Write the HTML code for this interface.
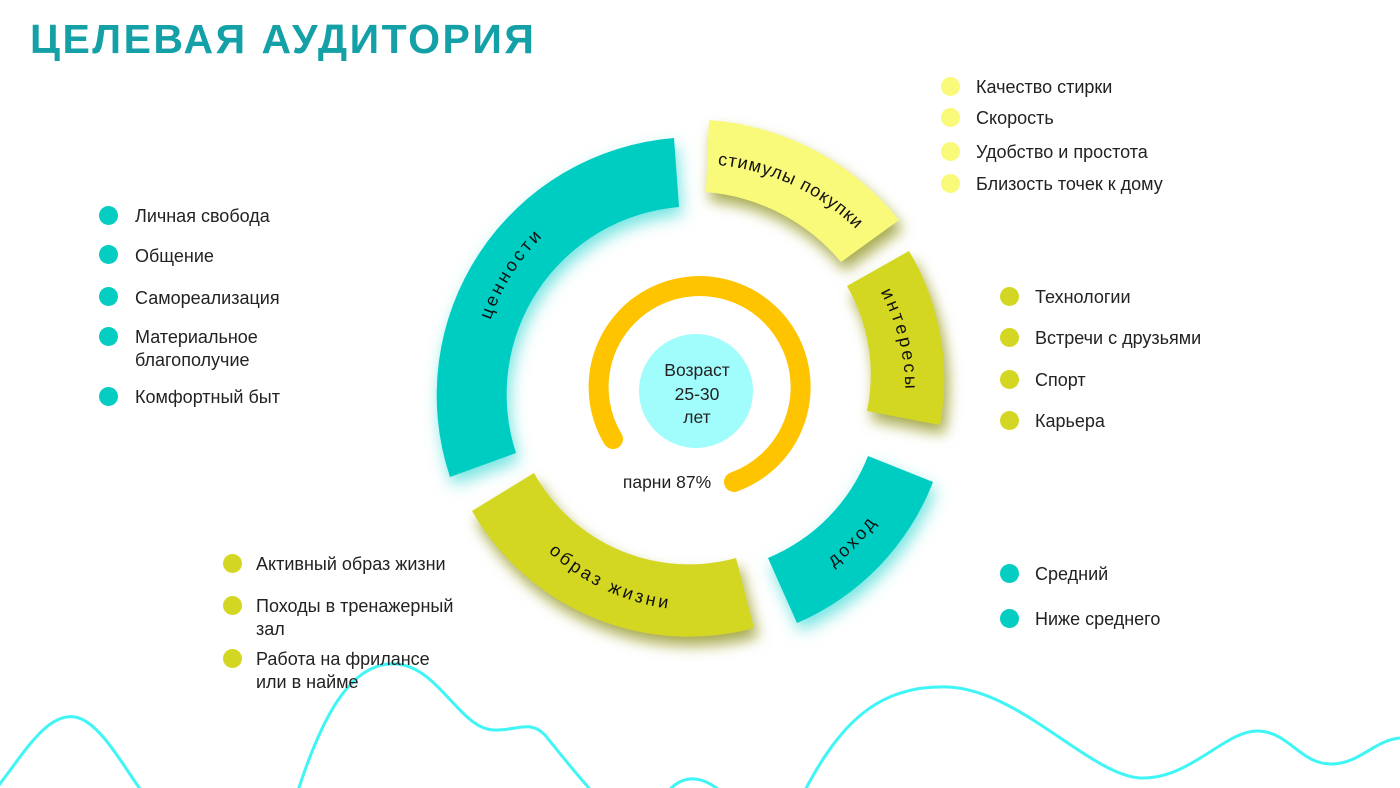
<!DOCTYPE html>
<html><head><meta charset="utf-8">
<style>
body{margin:0;width:1400px;height:788px;overflow:hidden;background:#fff;font-family:"Liberation Sans","DejaVu Sans",sans-serif;}
.t{position:absolute;font-size:18px;color:#222;line-height:23px;}
.d{position:absolute;width:19px;height:19px;border-radius:50%;}
h1{position:absolute;left:30px;top:16px;margin:0;font-size:41px;font-weight:bold;color:#13a0a6;letter-spacing:2.5px;}
</style></head><body>
<svg width="1400" height="788" style="position:absolute;left:0;top:0">
<defs>
<filter id="ft" x="-30%" y="-30%" width="160%" height="160%"><feDropShadow dx="3" dy="8" stdDeviation="8" flood-color="#00cfc8" flood-opacity="0.55"/></filter>
<filter id="fy" x="-30%" y="-30%" width="160%" height="160%"><feDropShadow dx="4" dy="9" stdDeviation="7" flood-color="#8a8f10" flood-opacity="0.75"/></filter>
<path id="p1" d="M482,429 A218,218 0 0 1 659,176"/>
<path id="p2" d="M677,165 A227,227 0 0 1 883,261"/>
<path id="p3" d="M847,246 A208,208 0 0 1 897,448"/>
<path id="p4" d="M759,605 A223,223 0 0 0 913,445"/>
<path id="p5" d="M499,484 A219,219 0 0 0 754,603"/>
</defs>
<path d="M-5,790 C20,760 45,712 75,717 C105,722 135,790 150,800 M295,800 C320,720 350,660 397,664 C440,668 460,730 495,730 C520,730 530,720 545,735 C565,760 590,790 600,800 M665,795 C680,775 700,772 725,795 M800,800 C840,720 880,685 948,687 C1020,690 1090,775 1140,778 C1190,780 1225,730 1258,731 C1290,732 1300,765 1333,764 C1360,763 1375,740 1400,738" fill="none" stroke="#3ff5f5" stroke-width="3"/>
<path filter="url(#ft)" fill="#05cdc2" d="M450,477 A258,258 0 0 1 674,138 L679,207 A188,188 0 0 0 516,453 Z"/>
<path filter="url(#fy)" fill="#fafa7a" d="M709,120 A268,268 0 0 1 899,220 L841,262 A196,196 0 0 0 706,192 Z"/>
<path filter="url(#fy)" fill="#d3d723" d="M909,251 A250,250 0 0 1 940,425 L867,411 A177,177 0 0 0 847,286 Z"/>
<path filter="url(#ft)" fill="#05cdc2" d="M933,482 A253,253 0 0 1 797,623 L768,558 A182,182 0 0 0 868,456 Z"/>
<path filter="url(#fy)" fill="#d3d723" d="M754,628 A250,250 0 0 1 472,511 L534,473 A177,177 0 0 0 736,558 Z"/>
<path d="M613,439 A101,101 0 1 1 734,482" fill="none" stroke="#ffc400" stroke-width="20" stroke-linecap="round"/>
<circle cx="696" cy="391" r="57" fill="#a0fdfb"/>
<g font-size="18" fill="#111" letter-spacing="3" text-anchor="middle">
<text><textPath href="#p1" startOffset="47%">ценности</textPath></text>
<text letter-spacing="1"><textPath href="#p2" startOffset="50%">стимулы покупки</textPath></text>
<text><textPath href="#p3" startOffset="50%">интересы</textPath></text>
<text><textPath href="#p4" startOffset="50%">доход</textPath></text>
<text><textPath href="#p5" startOffset="50%">образ жизни</textPath></text>
</g>
<g font-size="17.5" fill="#222" text-anchor="middle">
<text x="697" y="376">Возраст</text>
<text x="697" y="400">25-30</text>
<text x="697" y="423">лет</text>
<text x="667" y="488">парни 87%</text>
</g>
</svg>
<h1>ЦЕЛЕВАЯ АУДИТОРИЯ</h1>

<div class="d" style="left:99px;top:206px;background:#05cdc2"></div><div class="t" style="left:135px;top:205px">Личная свобода</div>
<div class="d" style="left:99px;top:245px;background:#05cdc2"></div><div class="t" style="left:135px;top:245px">Общение</div>
<div class="d" style="left:99px;top:287px;background:#05cdc2"></div><div class="t" style="left:135px;top:287px">Самореализация</div>
<div class="d" style="left:99px;top:327px;background:#05cdc2"></div><div class="t" style="left:135px;top:326px">Материальное<br>благополучие</div>
<div class="d" style="left:99px;top:387px;background:#05cdc2"></div><div class="t" style="left:135px;top:386px">Комфортный быт</div>

<div class="d" style="left:941px;top:77px;background:#f9f97a"></div><div class="t" style="left:976px;top:76px">Качество стирки</div>
<div class="d" style="left:941px;top:108px;background:#f9f97a"></div><div class="t" style="left:976px;top:107px">Скорость</div>
<div class="d" style="left:941px;top:142px;background:#f9f97a"></div><div class="t" style="left:976px;top:141px">Удобство и простота</div>
<div class="d" style="left:941px;top:174px;background:#f9f97a"></div><div class="t" style="left:976px;top:173px">Близость точек к дому</div>

<div class="d" style="left:1000px;top:287px;background:#d3d723"></div><div class="t" style="left:1035px;top:286px">Технологии</div>
<div class="d" style="left:1000px;top:328px;background:#d3d723"></div><div class="t" style="left:1035px;top:327px">Встречи с друзьями</div>
<div class="d" style="left:1000px;top:370px;background:#d3d723"></div><div class="t" style="left:1035px;top:369px">Спорт</div>
<div class="d" style="left:1000px;top:411px;background:#d3d723"></div><div class="t" style="left:1035px;top:410px">Карьера</div>

<div class="d" style="left:1000px;top:564px;background:#05cdc2"></div><div class="t" style="left:1035px;top:563px">Средний</div>
<div class="d" style="left:1000px;top:609px;background:#05cdc2"></div><div class="t" style="left:1035px;top:608px">Ниже среднего</div>

<div class="d" style="left:223px;top:554px;background:#d3d723"></div><div class="t" style="left:256px;top:553px">Активный образ жизни</div>
<div class="d" style="left:223px;top:596px;background:#d3d723"></div><div class="t" style="left:256px;top:595px">Походы в тренажерный<br>зал</div>
<div class="d" style="left:223px;top:649px;background:#d3d723"></div><div class="t" style="left:256px;top:648px">Работа на фрилансе<br>или в найме</div>
</body></html>
